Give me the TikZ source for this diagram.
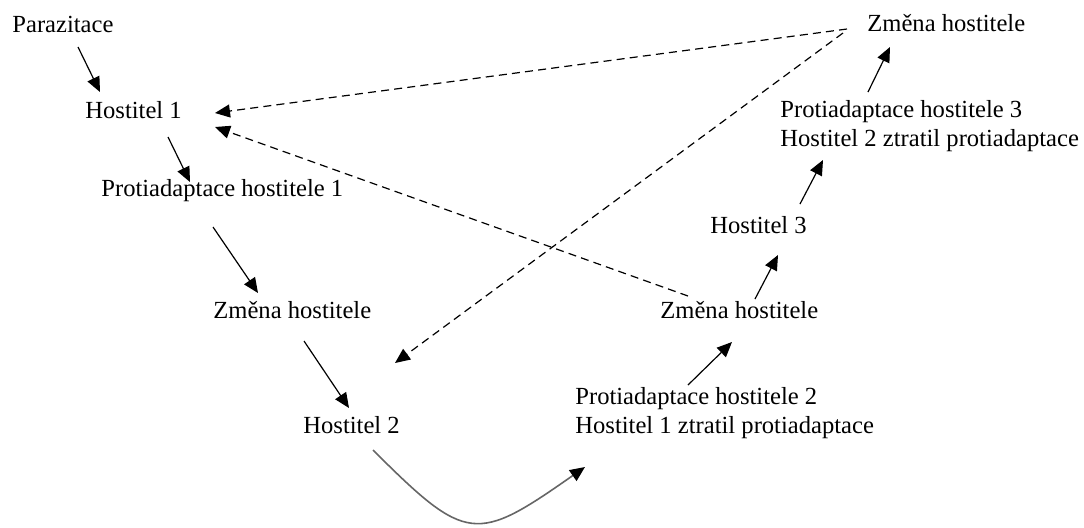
\documentclass[tikz,border=0pt]{standalone}
\usepackage{fontspec}
\setmainfont{Liberation Serif}
\usetikzlibrary{arrows.meta, calc}

\begin{document}
\begin{tikzpicture}[
  x=0.5pt, y=-0.5pt,
  lbl/.style={inner sep=0pt, anchor=base west, align=left,
              font=\fontsize{12.3}{14.3}\selectfont},
  arr/.style={-{Triangle[length=7.5pt, width=6.5pt]}, line width=0.6pt},
  darr/.style={-{Triangle[length=7.5pt, width=6.5pt]}, line width=0.6pt,
               dash pattern=on 4pt off 2.6pt},
  carr/.style={-{Triangle[length=7.5pt, width=6.5pt, color=black]}, line width=0.8pt,
               black!60}
]
\useasboundingbox (0,0) rectangle (1084,527);

% --- Left branch ---
\node[lbl] (par)   at (12,32)   {Parazitace};
\node[lbl] (hos1)  at (85,118)  {Hostitel 1};
\node[lbl] (prot1) at (101,196) {Protiadaptace hostitele 1};
\node[lbl] (zm1)   at (213,318) {Změna hostitele};
\node[lbl] (hos2)  at (303,433) {Hostitel 2};

% --- Right branch (base = last line) ---
\node[lbl] (prot2) at (575,433) {Protiadaptace hostitele 2\\Hostitel 1 ztratil protiadaptace};
\node[lbl] (zm2)   at (660,318) {Změna hostitele};
\node[lbl] (hos3)  at (710,233) {Hostitel 3};
\node[lbl] (prot3) at (780,146) {Protiadaptace hostitele 3\\Hostitel 2 ztratil protiadaptace};
\node[lbl] (zm3)   at (867,31)  {Změna hostitele};

\draw[arr] ($(par.base west)+(66,15)$)   -- ($(hos1.base west)+(15,-26)$);
\draw[arr] ($(hos1.base west)+(83,19)$)  -- ($(prot1.base west)+(89,-14)$);
\draw[arr] ($(prot1.base west)+(112,31)$) -- ($(zm1.base west)+(45,-25)$);
\draw[arr] ($(zm1.base west)+(91,23)$)   -- ($(hos2.base west)+(46,-25)$);

\draw[carr] ($(hos2.base west)+(70,17)$) to[out=-45, in=-145, looseness=1.6]
            ($(prot2.base west)+(10,34)$);

\draw[arr] ($(prot2.base west)+(113,-48)$) -- ($(zm2.base west)+(72,24)$);
\draw[arr] ($(zm2.base west)+(95,-19)$)    -- ($(hos3.base west)+(68,22)$);
\draw[arr] ($(hos3.base west)+(90,-29)$)   -- ($(prot3.base west)+(43,14)$);
\draw[arr] ($(prot3.base west)+(88,-54)$)  -- ($(zm3.base west)+(23,16)$);

% --- Host switches ---
\draw[darr] ($(zm3.base west)+(-20,-2)$) -- ($(hos1.base west)+(130,-5)$);
\draw[darr] ($(zm3.base west)+(-24,2)$)  -- ($(hos2.base west)+(92,-70)$);
\draw[darr] ($(zm2.base west)+(28,-22)$) -- ($(hos1.base west)+(130,9)$);

\end{tikzpicture}
\end{document}
